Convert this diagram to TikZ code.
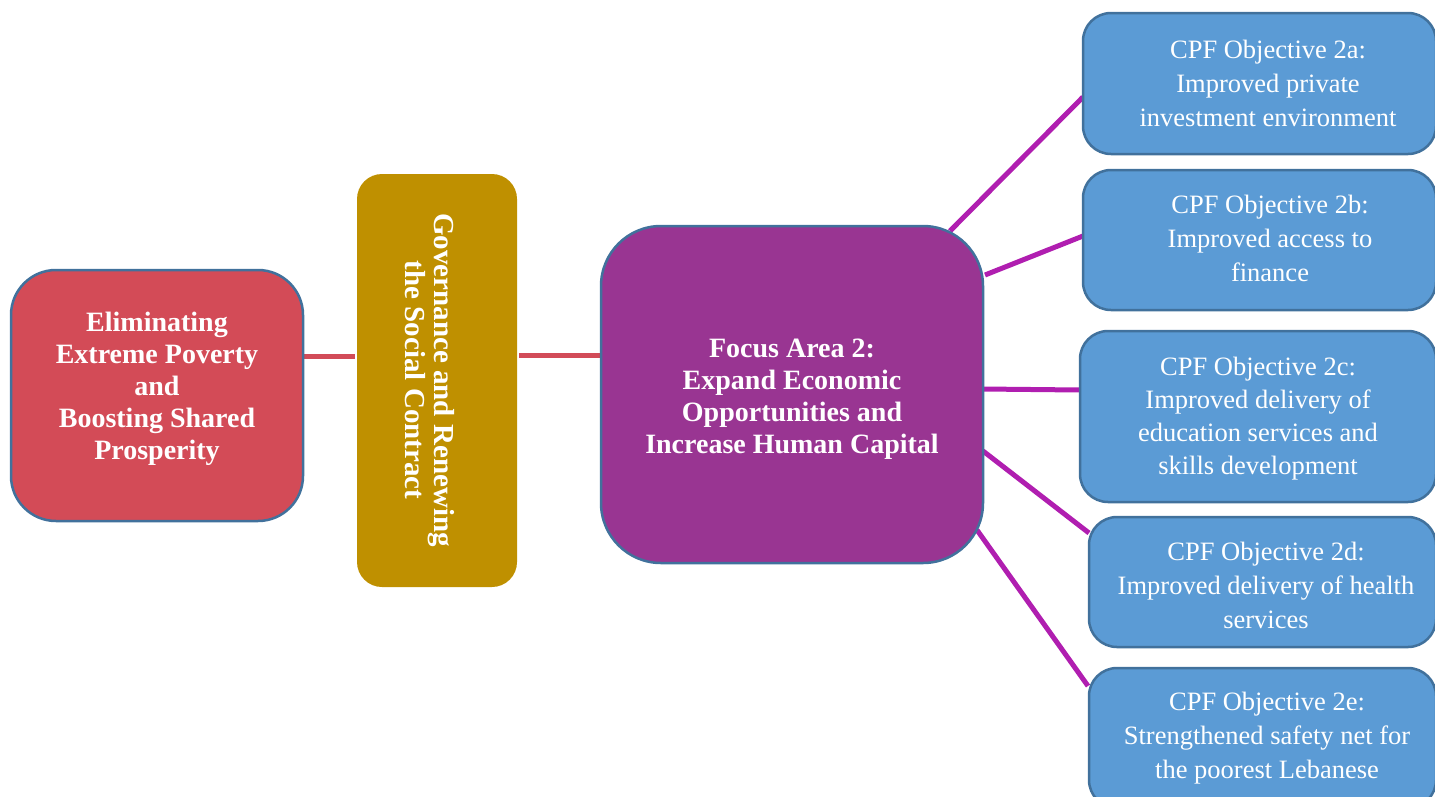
\documentclass[tikz,border=0pt]{standalone}
\usepackage{fontspec}
\setmainfont{Liberation Serif}
\usetikzlibrary{backgrounds}
\definecolor{redbox}{HTML}{D34B57}
\definecolor{goldbox}{HTML}{BF9000}
\definecolor{purplebox}{HTML}{993592}
\definecolor{bluebox}{HTML}{5B9BD5}
\definecolor{edgeblue}{HTML}{41719C}
\definecolor{redline}{HTML}{D24B58}
\definecolor{purpleline}{HTML}{B01EB0}
\tikzset{
  box/.style={draw=edgeblue, line width=2.5pt, rectangle, inner sep=0pt},
  objbox/.style={box, fill=bluebox, rounded corners=28pt},
  boldtxt/.style={text=white, align=center, font=\fontsize{28}{32}\selectfont\bfseries},
  objtxt/.style={text=white, align=center, font=\fontsize{26.5}{34}\selectfont},
  redlink/.style={draw=redline, line width=5pt},
  purplelink/.style={draw=purpleline, line width=5pt},
}
\begin{document}
\begin{tikzpicture}[x=1pt,y=-1pt]
\useasboundingbox (0,0) rectangle (1435,796);
\clip (0,0) rectangle (1435,796);
% main boxes
\node[box, fill=redbox, rounded corners=45pt, minimum width=292pt, minimum height=251pt] (pov) at (157,395.5) {};
\node[rectangle, fill=goldbox, rounded corners=25pt, minimum width=160pt, minimum height=413pt, inner sep=0pt] (gov) at (437,380.5) {};
\node[box, fill=purplebox, rounded corners=60pt, minimum width=382pt, minimum height=337pt] (focus) at (792,394.5) {};
% objective boxes
\node[objbox, minimum width=353pt, minimum height=141pt] (oa) at (1259.5,83.5) {};
\node[objbox, minimum width=353pt, minimum height=140pt] (ob) at (1259.5,240) {};
\node[objbox, minimum width=356pt, minimum height=171pt] (oc) at (1258,416.5) {};
\node[objbox, minimum width=347pt, minimum height=130pt] (od) at (1262.5,582) {};
\node[objbox, minimum width=347pt, minimum height=140pt] (oe) at (1262.5,738) {};
% texts
\node[boldtxt] (povt) at (157,389) {Eliminating\\Extreme Poverty\\and\\Boosting Shared\\Prosperity};
\node[boldtxt, rotate=-90, font=\fontsize{29}{29}\selectfont\bfseries] (govt) at (430,380) {Governance and Renewing\\the Social Contract};
\node[boldtxt] (focust) at (792,399) {Focus Area 2:\\Expand Economic\\Opportunities and\\Increase Human Capital};
\node[objtxt] (oat) at (1268,83) {CPF Objective 2a:\\Improved private\\investment environment};
\node[objtxt] (obt) at (1270,238) {CPF Objective 2b:\\Improved access to\\finance};
\node[objtxt, font=\fontsize{26.5}{33}\selectfont] (oct) at (1258,419) {CPF Objective 2c:\\Improved delivery of\\education services and\\skills development};
\node[objtxt] (odt) at (1266,585) {CPF Objective 2d:\\Improved delivery of health\\services};
\node[objtxt] (oet) at (1267,738) {CPF Objective 2e:\\Strengthened safety net for\\the poorest Lebanese};
% connectors
\begin{scope}[on background layer]
\coordinate (g1) at (355,356);
\coordinate (g2) at (519,355);
\draw[redlink] (pov.east |- g1) -- (g1);
\draw[redlink] (g2) -- (focus.west |- g2);
\coordinate (fa) at (950,231);
\coordinate (fb) at (985,275);
\coordinate (fc) at (983,389);
\coordinate (fd) at (983,451);
\coordinate (fe) at (977,530);
\coordinate (ta) at (1083,97);
\coordinate (tb) at (1083,236);
\coordinate (tc) at (1080,390);
\coordinate (td) at (1089,533);
\coordinate (te) at (1088,686);
\draw[purplelink] (fa) -- (ta);
\draw[purplelink] (fb) -- (tb);
\draw[purplelink] (fc) -- (tc);
\draw[purplelink] (fd) -- (td);
\draw[purplelink] (fe) -- (te);
\end{scope}
\end{tikzpicture}
\end{document}
